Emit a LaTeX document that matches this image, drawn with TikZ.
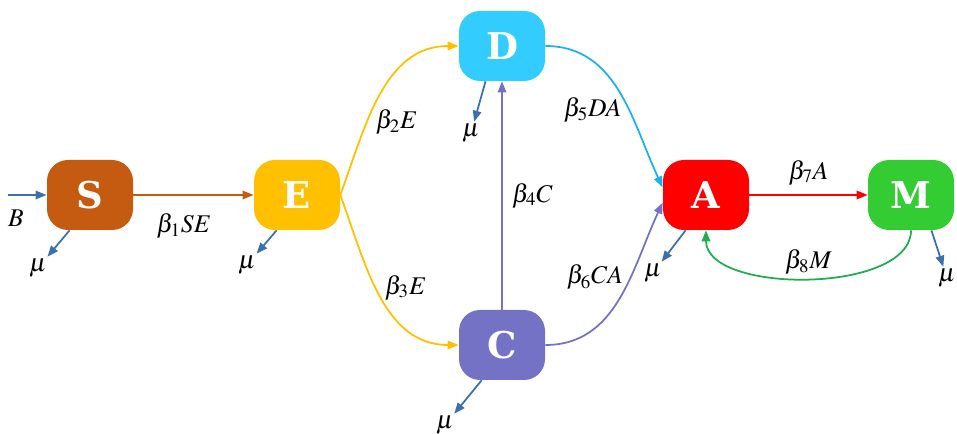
\documentclass[tikz,border=0pt]{standalone}
\usepackage{mathptmx}
\usepackage{fontspec}
\usepackage{tikz}
\usetikzlibrary{arrows.meta,calc}
\usepackage{xcolor}
\newfontfamily\boxfont{DejaVu Serif}
\definecolor{sbrown}{HTML}{C55A11}
\definecolor{eyellow}{HTML}{FFC000}
\definecolor{dblue}{HTML}{33CCFF}
\definecolor{dline}{HTML}{1AB2EE}
\definecolor{cpurple}{HTML}{7472C4}
\definecolor{ared}{HTML}{FF0000}
\definecolor{mgreen}{HTML}{33CC33}
\definecolor{mline}{HTML}{1EAD50}
\definecolor{mublue}{HTML}{3A70AC}

\begin{document}
\begin{tikzpicture}[font=\fontsize{14.5}{16}\selectfont,
  box/.style={rounded corners=0.42cm, minimum width=1.72cm, minimum height=1.4cm, inner sep=0pt, text=white, font=\boxfont\bfseries\fontsize{21}{21}\selectfont},
  flow/.style={line width=1pt, -{Triangle[length=2.2mm,width=1.7mm]}},
  muarrow/.style={line width=1pt, mublue, -{Triangle[length=2.2mm,width=1.7mm]}},
  lbl/.style={inner sep=1pt, text=black}]
\useasboundingbox (0,0) rectangle (19.14,8.66);
\def\ymid{4.76}
\foreach \n/\x/\y/\c in {S/1.8/\ymid/sbrown, E/5.94/\ymid/eyellow, D/10.04/7.74/dblue, C/10.04/1.76/cpurple, A/14.12/\ymid/ared, M/18.22/\ymid/mgreen} {
  \node[box, fill=\c] (\n) at (\x,\y) {\n};
}
% death rates
\foreach \n/\a/\dx/\dy in {S/240/-1.04/-1.46, E/240/-1.0/-1.4, D/245/-0.62/-1.74, C/240/-1.14/-1.6, A/240/-1.06/-1.56, M/300/0.72/-1.66} {
  \node[lbl] (mu\n) at ($(\n)+(\dx,\dy)$) {$\mu$};
  \draw[muarrow] (\n.\a) -- (mu\n);
}
% recruitment
\coordinate (Bin) at (0.16,\ymid);
\node[lbl] (B) at (0.32,4.3) {$B$};
\draw[muarrow] (Bin) -- (S.west);
% transfers
\draw[flow, sbrown] (S) -- node[lbl, below=0.32cm, pos=0.42] {$\beta_1SE$} (E);
\draw[flow, eyellow] (E.east) to[out=70,in=180] node[lbl, pos=0.35, right=0.12cm] {$\beta_2E$} (D.west);
\draw[flow, eyellow] (E.east) to[out=-70,in=180] node[lbl, pos=0.45, right=0.12cm] {$\beta_3E$} (C.west);
\draw[flow, cpurple] (C) -- node[lbl, right=0.15cm] {$\beta_4C$} (D);
\draw[flow, dline] (D.east) to[out=0,in=115] node[lbl, pos=0.6, left=0.1cm] {$\beta_5DA$} (A.170);
\draw[flow, cpurple] (C.east) to[out=0,in=245] node[lbl, pos=0.62, left=0.1cm] {$\beta_6CA$} (A.190);
\draw[flow, ared] (A) -- node[lbl, above=0.15cm] {$\beta_7A$} (M);
\draw[flow, mline] (M.south) to[out=-90,in=-90,looseness=0.8] node[lbl, above=0.02cm] {$\beta_8M$} (A.south);
\end{tikzpicture}
\end{document}
